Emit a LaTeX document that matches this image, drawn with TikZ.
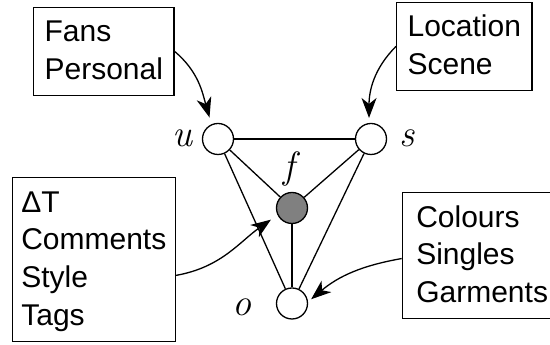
\documentclass[tikz,border=0pt]{standalone}
\usepackage{fontspec}
\newfontfamily\arialfont{Liberation Sans}
\usetikzlibrary{arrows.meta}
\newcommand\boxtop{\rule{0pt}{34.5pt}}
\newcommand\boxbot{\rule[-16pt]{0pt}{16pt}}
\begin{document}
\begin{tikzpicture}[x=1pt,y=1pt,
  vert/.style={circle,draw,line width=1.3pt,minimum size=31pt,inner sep=0pt,fill=white},
  edge/.style={line width=1.3pt},
  infobox/.style={draw,line width=1.2pt,align=left,inner ysep=0pt,anchor=north west,
    font=\arialfont\fontsize{30}{37.7}\selectfont},
  lbl/.style={anchor=base,inner sep=0pt,font=\fontsize{38}{44}\selectfont\itshape},
  arr/.style={line width=1.3pt,-{Stealth[length=20pt,width=15pt,inset=6pt]}}]
\useasboundingbox (0,0) rectangle (550,345);
% vertices
\node[vert] (u) at (218,206) {};
\node[vert] (s) at (371,206) {};
\node[vert,fill=gray] (f) at (292,137) {};
\node[vert] (o) at (292,41.5) {};
% edges
\draw[edge] (u) -- (s);
\draw[edge] (u) -- (f);
\draw[edge] (u) -- (o);
\draw[edge] (s) -- (f);
\draw[edge] (s) -- (o);
\draw[edge] (f) -- (o);
% labels
\node[lbl] (lu) at (182.5,198.3) {u};
\node[lbl] (ls) at (407.5,198.3) {s};
\node[lbl] (lf) at (289,166) {f};
\node[lbl] (lo) at (241.7,29.7) {o};
% boxes
\node[infobox,inner xsep=11pt] (b1) at (33,338.3) {\boxtop Fans\\Personal\boxbot};
\node[infobox,inner xsep=11pt] (b2) at (396,343.3) {\boxtop Location\\Scene\boxbot};
\node[infobox,inner xsep=9pt] (b3) at (11.7,168) {\boxtop ΔT\\Comments\\Style\\Tags\boxbot};
\node[infobox,inner xsep=14pt] (b4) at (401.7,153) {\boxtop Colours\\Singles\\Garments\boxbot};
% arrows
\draw[arr,shorten >=7pt] (b1.east) to[out=-40,in=106] (u.114);
\draw[arr,shorten >=5pt] (b2.west) to[out=225,in=90] (s.97);
\draw[arr,shorten >=8pt] ([yshift=-16pt]b3.east) to[out=10,in=215] (f.206);
\draw[arr,shorten >=4pt] ([yshift=-3pt]b4.west) to[out=190,in=40] (o.6);
\end{tikzpicture}
\end{document}
